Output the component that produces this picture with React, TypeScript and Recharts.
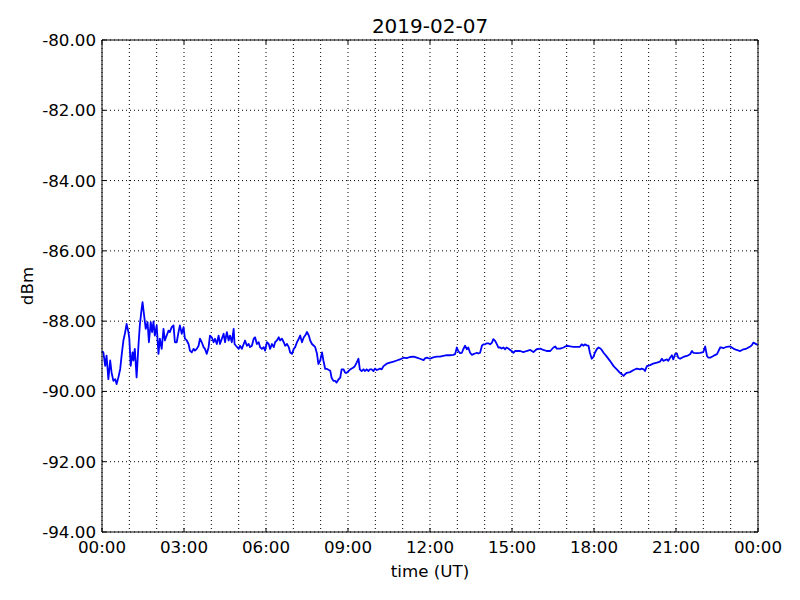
import React from "react";
import { LineChart, Line, XAxis, YAxis, CartesianGrid } from "recharts";

// minutes after 00:00 UT
const minutes = [
  0, 3, 7, 10, 14, 18, 21, 25, 29, 32, 36, 40, 43, 47, 51, 54, 58, 60, 63, 67, 69, 72, 76, 80, 83, 87, 89, 92, 96,
  100, 103, 107, 110, 113, 116, 120, 124, 127, 131, 135, 138, 142, 146, 149, 153, 157, 160, 164, 168, 171, 175, 179,
  182, 186, 190, 193, 197, 201, 204, 208, 212, 215, 219, 223, 226, 230, 234, 237, 241, 245, 248, 252, 256, 259, 263,
  267, 270, 274, 278, 281, 285, 289, 291, 294, 300, 303, 307, 311, 314, 318, 322, 325, 329, 333, 336, 340, 344, 347,
  351, 355, 358, 362, 366, 369, 373, 377, 380, 384, 388, 391, 395, 399, 402, 406, 410, 413, 417, 421, 424, 428, 432,
  435, 439, 443, 446, 450, 454, 457, 461, 465, 468, 472, 475, 479, 483, 486, 490, 494, 501,
  504, 508, 512, 515, 519, 523, 526, 530, 534, 537, 541, 545, 548, 552, 555, 559, 563, 566, 570, 574, 577, 581, 585,
  588, 592, 596, 599, 603, 607, 610, 614, 618, 625, 632, 640, 647, 654, 662, 669, 676, 684, 691, 698, 706, 709, 713,
  720, 727, 735, 742, 749, 757, 764, 771, 775, 779, 782, 786, 790, 793, 797, 801, 804, 808, 812, 815, 819, 823, 826,
  830, 834, 837, 841, 845, 848, 852, 856, 859, 863, 867, 870, 874, 877, 881, 885, 888, 892, 896, 899, 903, 907, 910,
  918, 925, 932, 940, 947, 954, 962, 969, 976, 984,
  991, 995, 998, 1006, 1013, 1020, 1028, 1035, 1042, 1049, 1053, 1057, 1060, 1064, 1068, 1071, 1075, 1079, 1082,
  1086, 1090, 1093, 1097, 1101, 1108, 1115, 1123, 1130, 1137, 1141, 1145, 1148, 1152, 1159, 1167, 1174, 1181, 1185,
  1189, 1192, 1196, 1203, 1210, 1218, 1225, 1229, 1232, 1240, 1243, 1247, 1251, 1254, 1258, 1262, 1265, 1269, 1276,
  1284, 1291, 1295, 1298, 1306, 1313, 1320, 1324, 1328, 1331, 1335, 1342, 1350, 1357, 1360, 1364, 1371, 1379, 1386,
  1393, 1401, 1408, 1415, 1419, 1423, 1426, 1430, 1434, 1437, 1440,
];

const dbm = [
  -88.85, -88.89, -89.27, -88.98, -89.65, -89.12, -89.46, -89.7, -89.65, -89.79, -89.6, -89.36, -88.98, -88.55,
  -88.31, -88.08, -88.31, -88.5, -89.27, -88.89, -89.12, -88.79, -89.6, -88.7, -88.12, -87.65, -87.46, -87.79,
  -88.22, -88.03, -88.6, -88.03, -88.31, -88.01, -88.41, -88.12, -88.93, -88.5, -88.79, -88.22, -88.55, -88.41,
  -88.27, -88.31, -88.17, -88.12, -88.6, -88.6, -88.31, -88.12, -88.36, -88.17, -88.5, -88.55, -88.65, -88.84,
  -88.89, -88.79, -88.84, -88.79, -88.7, -88.5, -88.6, -88.74, -88.79, -88.93, -88.74, -88.41, -88.46, -88.6,
  -88.5, -88.65, -88.41, -88.65, -88.5, -88.36, -88.6, -88.31, -88.55, -88.41, -88.6, -88.22, -88.65, -88.7,
  -88.79, -88.7, -88.79, -88.65, -88.55, -88.7, -88.65, -88.74, -88.7, -88.5, -88.46, -88.65, -88.6, -88.74,
  -88.79, -88.74, -88.84, -88.6, -88.65, -88.79, -88.65, -88.74, -88.6, -88.55, -88.46, -88.55, -88.5, -88.6,
  -88.7, -88.65, -88.74, -88.89, -88.93, -88.79, -88.74, -88.6, -88.5, -88.41, -88.6, -88.46, -88.41, -88.31,
  -88.41, -88.55, -88.65, -88.7, -88.74, -88.93, -89.22, -89.12, -88.89, -89.12, -89.36, -89.36, -89.41,
  -89.61, -89.7, -89.7, -89.75, -89.66, -89.61, -89.37, -89.37, -89.47, -89.47, -89.42, -89.37, -89.35, -89.32,
  -89.28, -89.18, -89.07, -89.37, -89.42, -89.37, -89.42, -89.37, -89.42, -89.37, -89.37, -89.42, -89.35, -89.39,
  -89.37, -89.35, -89.37, -89.28, -89.21, -89.18, -89.15, -89.12, -89.09, -89.04, -89.05, -89.02, -89.01, -89.04,
  -89.07, -89.11, -89.06, -89.04, -89.07, -89.03, -89.01, -89.01, -88.99, -88.97, -88.97, -88.96, -88.94, -88.75,
  -88.85, -88.91, -88.9, -88.8, -88.7, -88.8, -88.75, -88.9, -88.96, -88.94, -88.92, -88.9, -88.92, -88.9, -88.7,
  -88.66, -88.66, -88.63, -88.63, -88.66, -88.61, -88.51, -88.56, -88.66, -88.75, -88.75, -88.78, -88.75, -88.8,
  -88.75, -88.78, -88.82, -88.85, -88.9, -88.85, -88.85, -88.85, -88.88, -88.85, -88.82, -88.88, -88.8, -88.78,
  -88.82, -88.85, -88.85,
  -88.75, -88.72, -88.78, -88.78, -88.75, -88.7, -88.72, -88.73, -88.73, -88.73, -88.66, -88.7, -88.66, -88.69,
  -88.7, -88.9, -89.07, -89.01, -88.9, -88.8, -88.75, -88.77, -88.82, -88.9, -89.01, -89.13, -89.28, -89.37,
  -89.47, -89.51, -89.56, -89.51, -89.47, -89.45, -89.39, -89.35, -89.37, -89.35, -89.37, -89.42, -89.28, -89.25,
  -89.21, -89.18, -89.15, -89.07, -89.13, -89.09, -89.13, -89.04, -88.97, -89.09, -88.94, -88.92, -89.04, -89.07,
  -89.02, -88.99, -88.94, -88.85, -88.9, -88.91, -88.9, -88.88, -88.72, -88.99, -89.04, -89.04, -88.99, -88.94,
  -88.75, -88.75, -88.77, -88.73, -88.72, -88.78, -88.82, -88.85, -88.8, -88.78, -88.75, -88.72, -88.69, -88.61,
  -88.64, -88.66, -88.68,
];

const hourTicks = Array.from({ length: 25 }, (_, i) => i * 60);
const dbmTicks = [-94, -92, -90, -88, -86, -84, -82, -80];

const data = minutes.map((m, i) => ({ m, v: dbm[i] }));

const FONT = "'DejaVu Sans', sans-serif";

const fmtTime = (m: number) => {
  const h = Math.floor(m / 60) % 24;
  return `${String(h).padStart(2, "0")}:00`;
};

// labels only every 3 h, grid every hour; ticks point inward like matplotlib classic
const XTick = (props: any) => {
  const { x, y, payload } = props;
  if (payload.value % 180 !== 0) return <g />;
  return (
    <g>
      <line x1={x} x2={x} y1={y} y2={y - 4} stroke="#000" />
      <line x1={x} x2={x} y1={40} y2={44} stroke="#000" />
      <text x={x} y={y + 21} textAnchor="middle" fontSize={16.7} fontFamily={FONT} fill="#000">
        {fmtTime(payload.value)}
      </text>
    </g>
  );
};

const YTick = (props: any) => {
  const { x, y, payload } = props;
  return (
    <g>
      <line x1={x} x2={x + 4} y1={y} y2={y} stroke="#000" />
      <line x1={758} x2={754} y1={y} y2={y} stroke="#000" />
      <text x={x - 6} y={y + 6} textAnchor="end" fontSize={16.7} fontFamily={FONT} fill="#000">
        {payload.value.toFixed(2)}
      </text>
    </g>
  );
};

export default function App() {
  return (
    <div style={{ position: "relative", width: 800, height: 600, background: "#fff", fontFamily: FONT }}>
      <style>{`body{margin:0}`}</style>
      <div style={{ position: "absolute", top: 14, left: 0, width: 860, textAlign: "center", fontSize: 20 }}>
        2019-02-07
      </div>
      <div style={{ position: "absolute", top: 561, left: 0, width: 860, textAlign: "center", fontSize: 16.7 }}>
        time (UT)
      </div>
      <div
        style={{
          position: "absolute",
          left: 27,
          top: 286,
          transform: "translate(-50%, -50%) rotate(-90deg)",
          fontSize: 16.7,
          whiteSpace: "nowrap",
        }}
      >
        dBm
      </div>
      <LineChart width={800} height={600} data={data} margin={{ top: 39, right: 41, bottom: 0, left: 0 }}>
        <CartesianGrid stroke="#000" strokeDasharray="1 3" />
        <XAxis
          dataKey="m"
          type="number"
          domain={[0, 1440]}
          ticks={hourTicks}
          interval={0}
          height={68}
          tickSize={0}
          tickMargin={0}
          tickLine={false}
          tick={<XTick />}
          axisLine={{ stroke: "#000", strokeWidth: 1 }}
        />
        <XAxis
          xAxisId="top"
          orientation="top"
          dataKey="m"
          type="number"
          domain={[0, 1440]}
          ticks={hourTicks}
          height={1}
          tick={false}
          tickLine={false}
          axisLine={{ stroke: "#000" }}
        />
        <YAxis
          type="number"
          domain={[-94, -80]}
          ticks={dbmTicks}
          interval={0}
          width={102}
          tickSize={0}
          tickMargin={0}
          tickLine={false}
          tick={<YTick />}
          axisLine={{ stroke: "#000", strokeWidth: 1 }}
        />
        <YAxis
          yAxisId="right"
          orientation="right"
          type="number"
          domain={[-94, -80]}
          ticks={dbmTicks}
          width={1}
          tick={false}
          tickLine={false}
          axisLine={{ stroke: "#000" }}
        />
        <Line
          dataKey="v"
          stroke="#0000ff"
          strokeWidth={1.8}
          strokeLinejoin="round"
          dot={false}
          type="linear"
          isAnimationActive={false}
        />
      </LineChart>
    </div>
  );
}
